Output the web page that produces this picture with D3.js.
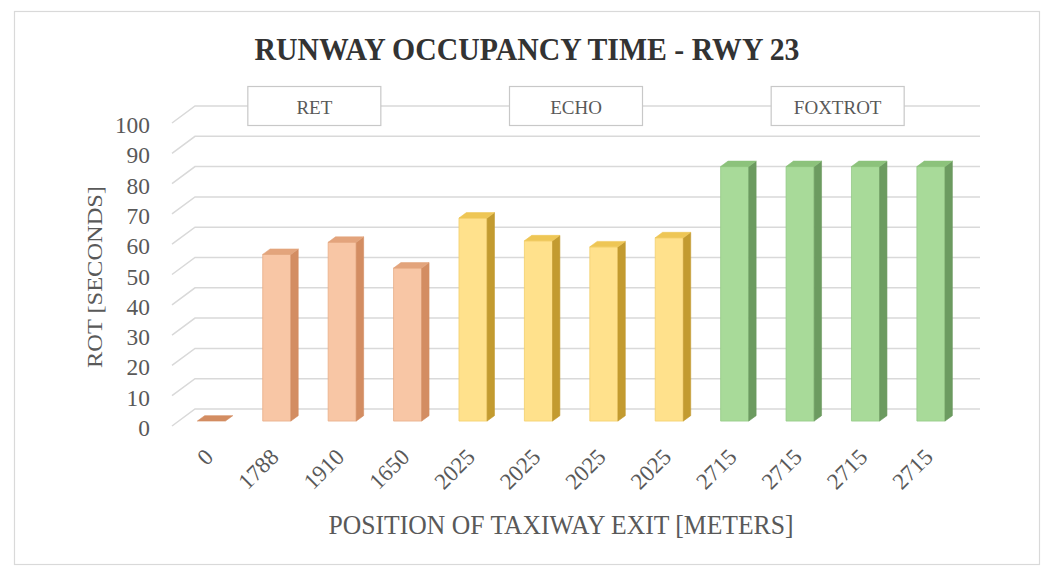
<!DOCTYPE html>
<html>
<head>
<meta charset="utf-8">
<script src="https://cdn.jsdelivr.net/npm/d3@7/dist/d3.min.js"></script>
<style>
  html, body { margin: 0; padding: 0; background: #ffffff; }
  svg { display: block; }
</style>
</head>
<body>
<svg id="chart" width="1046" height="569"></svg>
<script>
// Taxiway exit positions (metres) for each measured landing
const exitPositions = ["0", "1788", "1910", "1650", "2025", "2025", "2025", "2025", "2715", "2715", "2715", "2715"];
// Runway occupancy time in seconds
const rotSeconds = [0, 55, 59, 50.5, 67, 59.5, 57.5, 60.5, 84, 84, 84, 84];
// Exit group for each landing
const exitGroup = ["RET", "RET", "RET", "RET", "ECHO", "ECHO", "ECHO", "ECHO", "FOXTROT", "FOXTROT", "FOXTROT", "FOXTROT"];
const groupNames = ["RET", "ECHO", "FOXTROT"];
const yTicks = [0, 10, 20, 30, 40, 50, 60, 70, 80, 90, 100];

const palette = {
  RET:     { front: "#f8c6a5", side: "#d38d62", top: "#e3a47c", edge: "#e9ae88" },
  ECHO:    { front: "#ffe18c", side: "#c39b30", top: "#eec655", edge: "#f2cf6c" },
  FOXTROT: { front: "#a8da99", side: "#6c9b60", top: "#8cc27b", edge: "#94c986" }
};

const svg = d3.select("#chart");
const fontSerif = "'Liberation Serif', 'Times New Roman', serif";

// Oblique 3D projection: depth z runs 0 (front) .. 1 (back wall)
const depthDX = 23, depthDY = -17;
const x = d3.scaleBand()
  .domain(d3.range(exitPositions.length))
  .range([172, 957])
  .paddingInner(0.57)
  .paddingOuter(0.285);
const y = d3.scaleLinear().domain([0, 100]).range([426, 123]);
const proj = (px, v, z) => [px + depthDX * z, y(v) + depthDY * z];
const z0 = 0.29, z1 = 0.61;

// Outer chart border
svg.append("rect")
  .attr("x", 14.5).attr("y", 11.5)
  .attr("width", 1025).attr("height", 553)
  .attr("fill", "#ffffff")
  .attr("stroke", "#d9d9d9").attr("stroke-width", 1.2);

// Title
svg.append("text")
  .attr("x", 527).attr("y", 60)
  .attr("text-anchor", "middle")
  .attr("font-family", fontSerif)
  .attr("font-weight", "bold")
  .attr("font-size", 31)
  .attr("fill", "#333333")
  .attr("textLength", 545)
  .attr("lengthAdjust", "spacingAndGlyphs")
  .text("RUNWAY OCCUPANCY TIME - RWY 23");

// Gridlines on the back wall plus their receding floor edges
const [xL, xR] = x.range();
const grid = svg.append("g").attr("stroke", "#d9d9d9").attr("stroke-width", 1.5).attr("fill", "none");
yTicks.forEach(t => {
  const a = proj(xL, t, 0), b = proj(xL, t, 1), c = proj(xR, t, 1);
  grid.append("path").attr("d", `M${a[0]},${a[1]}L${b[0]},${b[1]}L${c[0]},${c[1]}`);
});

// Y tick labels
svg.append("g")
  .selectAll("text")
  .data(yTicks)
  .join("text")
  .attr("x", 150)
  .attr("y", d => y(d) + 2)
  .attr("text-anchor", "end")
  .attr("dominant-baseline", "central")
  .attr("font-family", fontSerif)
  .attr("font-size", 24)
  .attr("fill", "#595959")
  .attr("textLength", d => String(d).length * 11.7)
  .attr("lengthAdjust", "spacingAndGlyphs")
  .text(d => d);

// Y axis title
svg.append("text")
  .attr("transform", "translate(102,277) rotate(-90)")
  .attr("text-anchor", "middle")
  .attr("font-family", fontSerif)
  .attr("font-size", 22)
  .attr("fill", "#595959")
  .attr("textLength", 182)
  .attr("lengthAdjust", "spacingAndGlyphs")
  .text("ROT [SECONDS]");

// Group label boxes centred over each exit group
const boxW = 133, boxH = 39;
groupNames.forEach(g => {
  const idx = d3.range(exitGroup.length).filter(i => exitGroup[i] === g);
  const cx = d3.mean(idx, i => x(i) + x.bandwidth() / 2) + depthDX * 0.5;
  const cy = y(100) + depthDY;
  svg.append("rect")
    .attr("x", cx - boxW / 2).attr("y", cy - boxH / 2)
    .attr("width", boxW).attr("height", boxH)
    .attr("fill", "#ffffff")
    .attr("stroke", "#c8c8c8").attr("stroke-width", 1.2);
  svg.append("text")
    .attr("x", cx).attr("y", cy + 1)
    .attr("text-anchor", "middle")
    .attr("dominant-baseline", "central")
    .attr("font-family", fontSerif)
    .attr("font-size", 19)
    .attr("fill", "#595959")
    .text(g);
});

// 3D bars: front, side and top faces
const poly = pts => "M" + pts.map(p => p.join(",")).join("L") + "Z";
const bars = svg.append("g");
rotSeconds.forEach((v, i) => {
  const c = palette[exitGroup[i]];
  const x0 = x(i), x1 = x(i) + x.bandwidth();
  const g = bars.append("g");
  if (v > 0) {
    g.append("path")
      .attr("d", poly([proj(x0, 0, z0), proj(x1, 0, z0), proj(x1, v, z0), proj(x0, v, z0)]))
      .attr("fill", c.front).attr("stroke", c.edge).attr("stroke-width", 0.8);
    g.append("path")
      .attr("d", poly([proj(x1, 0, z0), proj(x1, 0, z1), proj(x1, v, z1), proj(x1, v, z0)]))
      .attr("fill", c.side).attr("stroke", c.side).attr("stroke-width", 0.6);
  }
  g.append("path")
    .attr("d", poly([proj(x0, v, z0), proj(x1, v, z0), proj(x1, v, z1), proj(x0, v, z1)]))
    .attr("fill", v > 0 ? c.top : c.side).attr("stroke", v > 0 ? c.top : c.side).attr("stroke-width", 0.6);
});

// X tick labels, rotated
svg.append("g")
  .selectAll("text")
  .data(exitPositions)
  .join("text")
  .attr("transform", (d, i) => {
    const px = x(i) + x.bandwidth() / 2 + depthDX * z0;
    return `translate(${px - 2},${453}) rotate(-45)`;
  })
  .attr("text-anchor", "end")
  .attr("dominant-baseline", "central")
  .attr("font-family", fontSerif)
  .attr("font-size", 23)
  .attr("fill", "#595959")
  .text(d => d);

// X axis title
svg.append("text")
  .attr("x", 561).attr("y", 534)
  .attr("text-anchor", "middle")
  .attr("font-family", fontSerif)
  .attr("font-size", 27)
  .attr("fill", "#595959")
  .attr("textLength", 465)
  .attr("lengthAdjust", "spacingAndGlyphs")
  .text("POSITION OF TAXIWAY EXIT [METERS]");
</script>
</body>
</html>
